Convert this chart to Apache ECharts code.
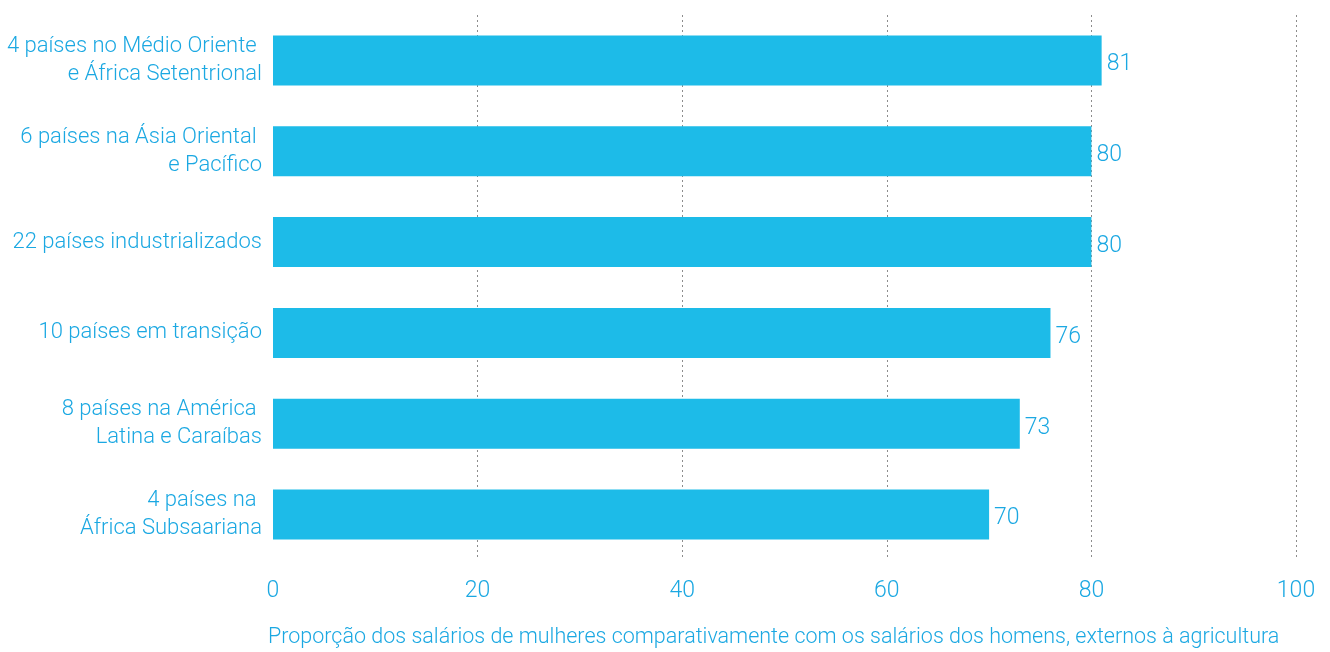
<!DOCTYPE html>
<html>
<head>
<meta charset="utf-8">
<script src="https://cdn.jsdelivr.net/npm/echarts@6/dist/echarts.min.js"></script>
<style>
  html, body { margin: 0; padding: 0; background: #ffffff; }
  #chart { width: 1330px; height: 652px; }
</style>
</head>
<body>
<div id="chart"></div>
<script>
// Regions, top to bottom
const categories = [
  '4 países no Médio Oriente \ne África Setentrional',
  '6 países na Ásia Oriental \ne Pacífico',
  '22 países industrializados',
  '10 países em transição',
  '8 países na América \nLatina e Caraíbas',
  '4 países na \nÁfrica Subsaariana'
];
// Women's wages as a share of men's, outside agriculture
const values = [81, 80, 80, 76, 73, 70];
const xTicks = [0, 20, 40, 60, 80, 100];
const axisTitle = 'Proporção dos salários de mulheres comparativamente com os salários dos homens, externos à agricultura';

const FONT = 'Roboto, "Liberation Sans", sans-serif';
const TEXT_BLUE = '#1ba8e2';
const BAR_BLUE = '#1dbbe8';

const chart = echarts.init(document.getElementById('chart'), null, { renderer: 'canvas' });

chart.setOption({
  animation: false,
  backgroundColor: '#ffffff',
  grid: { left: 273, right: 34, top: 15, bottom: 92, containLabel: false },
  title: {
    text: axisTitle,
    left: 268,
    top: 627,
    padding: 0,
    textStyle: { fontFamily: FONT, fontSize: 21.5, fontWeight: 300, color: TEXT_BLUE }
  },
  xAxis: {
    type: 'value',
    min: xTicks[0],
    max: xTicks[xTicks.length - 1],
    interval: 20,
    axisLine: { show: false },
    axisTick: { show: false },
    axisLabel: {
      margin: 20,
      fontFamily: FONT,
      fontWeight: 300,
      fontSize: 23,
      color: TEXT_BLUE,
      formatter: v => xTicks.includes(v) ? String(v) : ''
    },
    splitLine: {
      show: true,
      showMinLine: false,
      lineStyle: { color: '#8c8c8c', width: 1, type: [2, 3] }
    }
  },
  yAxis: {
    type: 'category',
    data: categories,
    inverse: true,
    axisLine: { show: false },
    axisTick: { show: false },
    splitLine: { show: false },
    axisLabel: {
      margin: 11,
      align: 'right',
      fontFamily: FONT,
      fontWeight: 300,
      fontSize: 22,
      lineHeight: 28,
      color: TEXT_BLUE
    }
  },
  series: [{
    type: 'bar',
    data: values,
    barWidth: '55%',
    itemStyle: { color: BAR_BLUE },
    label: {
      show: true,
      position: 'right',
      distance: 5,
      offset: [0, 4],
      fontFamily: FONT,
      fontWeight: 300,
      fontSize: 23,
      color: TEXT_BLUE
    }
  }]
});
</script>
</body>
</html>
